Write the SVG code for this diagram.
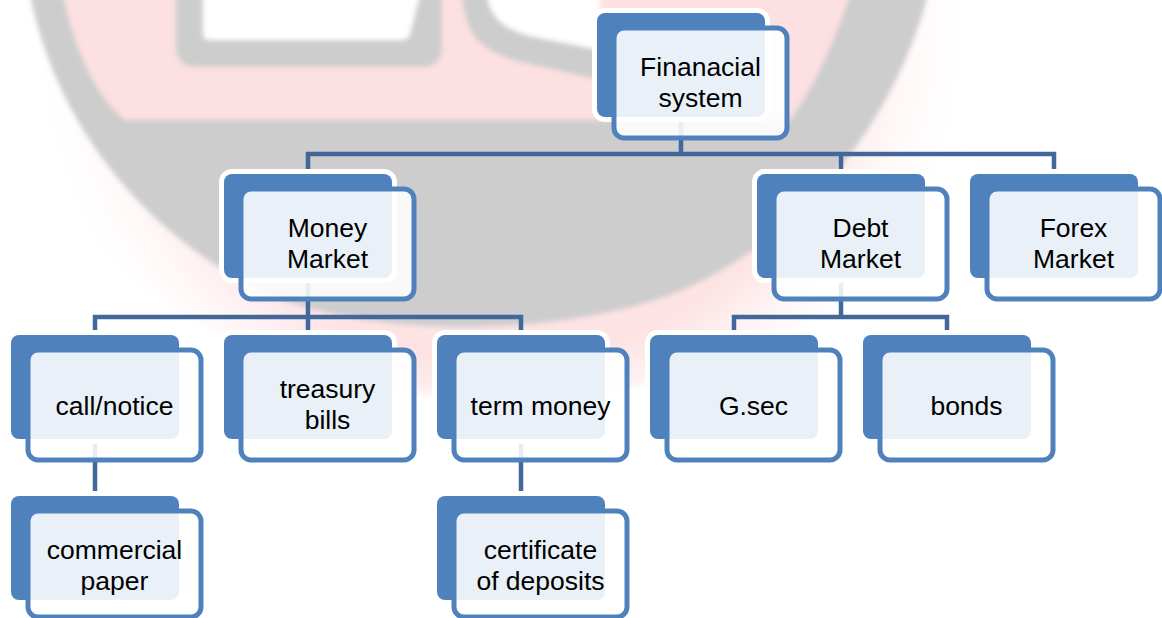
<svg xmlns="http://www.w3.org/2000/svg" width="1162" height="618" viewBox="0 0 1162 618">
<defs>
<filter id="soft" x="-10%" y="-10%" width="120%" height="120%"><feGaussianBlur stdDeviation="2.5"/></filter>
<radialGradient id="halo" cx="500" cy="20" r="480" gradientUnits="userSpaceOnUse">
<stop offset="0.72" stop-color="#fde3e4"/>
<stop offset="1" stop-color="#ffffff" stop-opacity="0"/>
</radialGradient>
<style>
.back{fill:#4f81bd;stroke:#ffffff;stroke-width:10;paint-order:stroke}
.front{fill:#ffffff;fill-opacity:0.88;stroke:#4f81bd;stroke-width:5}
.lbl{font-family:"Liberation Sans",Arial,sans-serif;font-size:26.5px;fill:#000000;text-anchor:middle}
.conn{fill:none;stroke:#41679b;stroke-width:4.5;stroke-linejoin:miter}
</style>
</defs>
<rect x="0" y="0" width="1162" height="618" fill="#ffffff"/>
<g id="watermark" filter="url(#soft)">
<ellipse cx="500" cy="20" rx="500" ry="380" fill="url(#halo)"/>
<path d="M30,-5 C55,120 140,235 270,295 C380,340 560,335 670,295 C800,245 895,120 928,-5 Z" fill="#cdcdcd"/>
<path d="M63,-5 C75,50 95,95 125,120 L790,120 C815,85 835,40 850,-5 Z" fill="#fde0e1"/>
<rect x="176" y="-30" width="266" height="97" rx="18" fill="#cdcdcd"/>
<path d="M203,-10 L421,-10 L410,34 Q408,40 400,40 L210,40 Q203,40 203,33 Z" fill="#ffffff"/>
<path d="M462,-5 C465,30 475,50 520,62 L600,80 L600,-5 Z" fill="#cdcdcd"/>
<path d="M487,-5 C490,15 500,28 530,36 L600,50 L600,-5 Z" fill="#ffffff"/>
</g>
<g id="connectors">
<path class="conn" d="M681,117 V154 M308,174 V154 H1054 V174 M841,154 V174"/>
<path class="conn" d="M308,278 V317 M95,335 V317 H521 V335 M308,317 V335"/>
<path class="conn" d="M841,278 V317 M734,335 V317 H947 V335"/>
<path class="conn" d="M95,440 V496 M521,440 V496"/>
</g>
<g id="n-financial">
<rect class="back" x="597" y="13" width="168" height="104" rx="8"/>
<rect class="front" x="614" y="28" width="173" height="110" rx="10"/>
<text class="lbl" x="700.5" y="76">Finanacial</text>
<text class="lbl" x="700.5" y="107">system</text>
</g>
<g id="n-money">
<rect class="back" x="224" y="174" width="168" height="104" rx="8"/>
<rect class="front" x="241" y="189" width="173" height="110" rx="10"/>
<text class="lbl" x="327.5" y="237">Money</text>
<text class="lbl" x="327.5" y="268">Market</text>
</g>
<g id="n-debt">
<rect class="back" x="757" y="174" width="168" height="104" rx="8"/>
<rect class="front" x="774" y="189" width="173" height="110" rx="10"/>
<text class="lbl" x="860.5" y="237">Debt</text>
<text class="lbl" x="860.5" y="268">Market</text>
</g>
<g id="n-forex">
<rect class="back" x="970" y="174" width="168" height="104" rx="8"/>
<rect class="front" x="987" y="189" width="173" height="110" rx="10"/>
<text class="lbl" x="1073.5" y="237">Forex</text>
<text class="lbl" x="1073.5" y="268">Market</text>
</g>
<g id="n-call">
<rect class="back" x="11" y="335" width="168" height="104" rx="8"/>
<rect class="front" x="28" y="350" width="173" height="110" rx="10"/>
<text class="lbl" x="114.5" y="415">call/notice</text>
</g>
<g id="n-treasury">
<rect class="back" x="224" y="335" width="168" height="104" rx="8"/>
<rect class="front" x="241" y="350" width="173" height="110" rx="10"/>
<text class="lbl" x="327.5" y="398">treasury</text>
<text class="lbl" x="327.5" y="429">bills</text>
</g>
<g id="n-term">
<rect class="back" x="437" y="335" width="168" height="104" rx="8"/>
<rect class="front" x="454" y="350" width="173" height="110" rx="10"/>
<text class="lbl" x="540.5" y="415">term money</text>
</g>
<g id="n-gsec">
<rect class="back" x="650" y="335" width="168" height="104" rx="8"/>
<rect class="front" x="667" y="350" width="173" height="110" rx="10"/>
<text class="lbl" x="753.5" y="415">G.sec</text>
</g>
<g id="n-bonds">
<rect class="back" x="863" y="335" width="168" height="104" rx="8"/>
<rect class="front" x="880" y="350" width="173" height="110" rx="10"/>
<text class="lbl" x="966.5" y="415">bonds</text>
</g>
<g id="n-commercial">
<rect class="back" x="11" y="496" width="168" height="104" rx="8"/>
<rect class="front" x="28" y="511" width="173" height="106" rx="10"/>
<text class="lbl" x="114.5" y="559">commercial</text>
<text class="lbl" x="114.5" y="590">paper</text>
</g>
<g id="n-certificate">
<rect class="back" x="437" y="496" width="168" height="104" rx="8"/>
<rect class="front" x="454" y="511" width="173" height="106" rx="10"/>
<text class="lbl" x="540.5" y="559">certificate</text>
<text class="lbl" x="540.5" y="590">of deposits</text>
</g>
</svg>
